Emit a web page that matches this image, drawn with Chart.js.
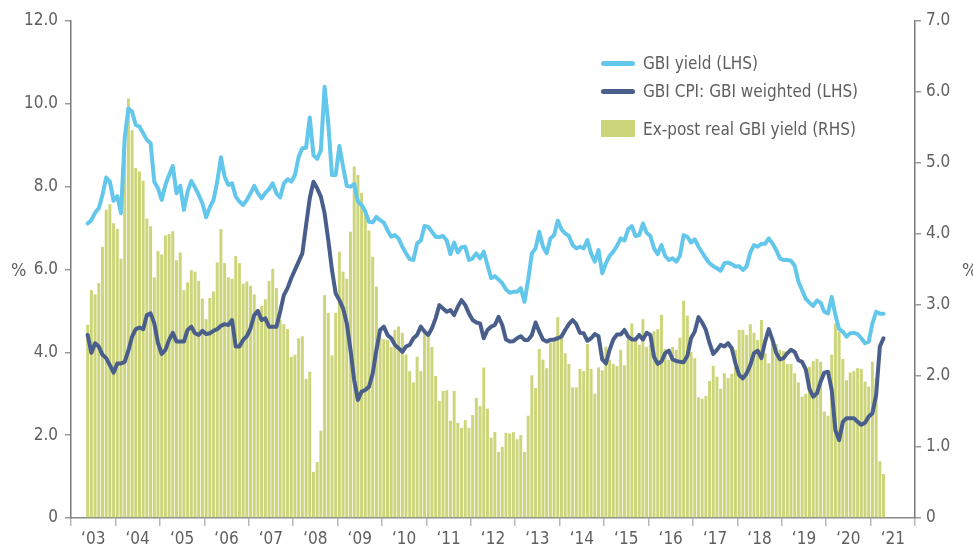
<!DOCTYPE html>
<html>
<head>
<meta charset="utf-8">
<script src="https://cdn.jsdelivr.net/npm/chart.js@4.4.1/dist/chart.umd.min.js"></script>
<style>
  body { margin: 0; background: #fff; }
  #wrap { position: relative; width: 973px; height: 549px; overflow: hidden;
          font-family: 'Liberation Sans Narrow', 'DejaVu Sans Condensed', Roboto, sans-serif; color: #5f5f5f; }
  canvas { position: absolute; left: 0; top: 0; }
  .pct { position: absolute; top: 259px; font-size: 18px; }
  .key { position: absolute; left: 601px; }
  .key .mark { position: absolute; left: 0; width: 34px; }
  .key .line { height: 5px; border-radius: 3px; }
  .key span { position: absolute; left: 42px; white-space: nowrap; font-size: 17px; line-height: 20px; }
</style>
</head>
<body>
<div id="wrap">
  <canvas id="gbiChart" width="973" height="549"></canvas>
  <div class="pct" style="left:11px">%</div>
  <div class="pct" style="left:962px">%</div>
  <div class="key" style="top:63px"><div class="mark line" style="top:-2px;background:#63c7ec"></div><span style="top:-10px">GBI yield (LHS)</span></div>
  <div class="key" style="top:91px"><div class="mark line" style="top:-2px;background:#4a5e8c"></div><span style="top:-10px">GBI CPI: GBI weighted (LHS)</span></div>
  <div class="key" style="top:129px"><div class="mark" style="top:-9px;height:17px;background:#cdd57a"></div><span style="top:-10px">Ex-post real GBI yield (RHS)</span></div>
</div>
<script>
// monthly data, May 2003 - Apr 2021
const firstMonth = 4;   // May 2003 (Jan 2003 = 0)
const yearLabels = ['\u201803', '\u201804', '\u201805', '\u201806', '\u201807', '\u201808', '\u201809', '\u201810',
  '\u201811', '\u201812', '\u201813', '\u201814', '\u201815', '\u201816', '\u201817', '\u201818', '\u201819',
  '\u201820', '\u201821'];

const gbiYield = [
  7.11, 7.19, 7.37, 7.48, 7.80, 8.22, 8.12, 7.66, 7.77, 7.36, 9.17, 9.89, 9.81, 9.49, 9.45, 9.29,
  9.13, 9.05, 8.12, 7.96, 7.68, 8.04, 8.28, 8.50, 7.84, 8.02, 7.44, 7.88, 8.14, 7.98, 7.80, 7.60,
  7.26, 7.50, 7.68, 8.12, 8.71, 8.24, 8.04, 8.08, 7.76, 7.64, 7.56, 7.68, 7.84, 8.02, 7.84, 7.72,
  7.85, 7.94, 8.08, 7.84, 7.74, 8.08, 8.18, 8.12, 8.28, 8.72, 8.93, 8.94, 9.67, 8.76, 8.67, 8.88,
  10.41, 9.53, 8.28, 8.28, 8.98, 8.48, 8.02, 8.00, 8.06, 7.64, 7.56, 7.40, 7.15, 7.14, 7.27, 7.19,
  7.13, 6.95, 6.79, 6.83, 6.75, 6.55, 6.39, 6.25, 6.23, 6.63, 6.70, 7.05, 7.03, 6.91, 6.79, 6.78,
  6.81, 6.70, 6.37, 6.65, 6.41, 6.54, 6.55, 6.23, 6.27, 6.39, 6.27, 6.43, 6.11, 5.79, 5.84, 5.76,
  5.67, 5.52, 5.44, 5.46, 5.46, 5.55, 5.22, 5.75, 6.39, 6.51, 6.91, 6.55, 6.39, 6.75, 6.83, 7.18,
  6.97, 6.87, 6.81, 6.59, 6.51, 6.55, 6.51, 6.71, 6.39, 6.19, 6.47, 5.91, 6.15, 6.33, 6.43, 6.57,
  6.75, 6.70, 6.97, 7.05, 6.81, 6.83, 7.11, 6.89, 6.81, 6.51, 6.37, 6.59, 6.33, 6.23, 6.27, 6.19,
  6.33, 6.83, 6.79, 6.65, 6.73, 6.55, 6.41, 6.27, 6.15, 6.08, 6.03, 5.97, 6.15, 6.17, 6.13, 6.07,
  6.08, 5.99, 6.07, 6.41, 6.59, 6.55, 6.62, 6.62, 6.75, 6.63, 6.47, 6.27, 6.23, 6.23, 6.21, 6.09,
  5.71, 5.50, 5.29, 5.20, 5.12, 5.25, 5.20, 4.98, 4.94, 5.34, 4.90, 4.56, 4.50, 4.38, 4.46, 4.47,
  4.44, 4.34, 4.22, 4.26, 4.70, 4.98, 4.93, 4.93
];

const gbiCpi = [
  4.42, 3.99, 4.22, 4.14, 3.94, 3.86, 3.69, 3.51, 3.73, 3.73, 3.77, 4.04, 4.38, 4.56, 4.60, 4.56,
  4.90, 4.94, 4.70, 4.22, 3.96, 4.06, 4.30, 4.47, 4.26, 4.26, 4.26, 4.54, 4.62, 4.46, 4.42, 4.52,
  4.44, 4.46, 4.52, 4.56, 4.64, 4.68, 4.66, 4.78, 4.14, 4.14, 4.30, 4.39, 4.58, 4.90, 5.00, 4.78,
  4.82, 4.62, 4.62, 4.62, 4.98, 5.38, 5.55, 5.79, 5.99, 6.19, 6.39, 7.07, 7.72, 8.12, 7.96, 7.76,
  7.36, 6.71, 5.99, 5.42, 5.26, 5.06, 4.70, 4.06, 3.33, 2.85, 3.05, 3.09, 3.17, 3.49, 4.06, 4.54,
  4.62, 4.42, 4.34, 4.18, 4.10, 4.01, 4.14, 4.18, 4.34, 4.42, 4.62, 4.50, 4.42, 4.58, 4.82, 5.14,
  5.06, 4.98, 5.02, 4.90, 5.10, 5.26, 5.14, 4.94, 4.78, 4.72, 4.70, 4.34, 4.54, 4.62, 4.66, 4.86,
  4.66, 4.31, 4.26, 4.27, 4.34, 4.39, 4.30, 4.30, 4.42, 4.72, 4.50, 4.31, 4.26, 4.30, 4.31, 4.34,
  4.38, 4.54, 4.68, 4.78, 4.68, 4.47, 4.46, 4.28, 4.34, 4.44, 4.39, 3.83, 3.73, 4.06, 4.31, 4.43,
  4.43, 4.54, 4.38, 4.31, 4.31, 4.42, 4.31, 4.47, 4.42, 3.89, 3.72, 3.78, 3.98, 4.04, 3.83, 3.79,
  3.77, 3.76, 3.91, 4.34, 4.50, 4.85, 4.72, 4.54, 4.22, 3.96, 4.06, 4.18, 4.14, 4.22, 4.10, 3.73,
  3.45, 3.37, 3.49, 3.69, 3.98, 4.04, 3.86, 4.26, 4.56, 4.30, 3.99, 3.83, 3.86, 3.98, 4.06, 4.01,
  3.81, 3.77, 3.59, 3.11, 2.93, 3.01, 3.29, 3.51, 3.53, 3.09, 2.12, 1.88, 2.32, 2.41, 2.41, 2.41,
  2.32, 2.25, 2.30, 2.45, 2.53, 2.97, 4.14, 4.34
];

const realYield = [
  2.72, 3.21, 3.15, 3.31, 3.82, 4.34, 4.42, 4.15, 4.07, 3.65, 5.35, 5.91, 5.46, 4.93, 4.88, 4.75,
  4.22, 4.11, 3.39, 3.76, 3.71, 3.98, 4.00, 4.04, 3.63, 3.74, 3.21, 3.32, 3.49, 3.47, 3.34, 3.09,
  2.80, 3.10, 3.19, 3.60, 4.07, 3.59, 3.39, 3.37, 3.69, 3.59, 3.30, 3.33, 3.27, 3.15, 2.90, 2.99,
  3.08, 3.34, 3.51, 3.24, 2.79, 2.73, 2.66, 2.27, 2.30, 2.53, 2.56, 1.96, 2.06, 0.65, 0.79, 1.23,
  3.14, 2.89, 2.29, 2.89, 3.75, 3.47, 3.37, 4.03, 4.95, 4.83, 4.58, 4.30, 4.05, 3.68, 3.26, 2.55,
  2.52, 2.51, 2.41, 2.65, 2.70, 2.61, 2.30, 2.07, 1.91, 2.27, 2.07, 2.60, 2.58, 2.41, 2.00, 1.65,
  1.79, 1.80, 1.37, 1.79, 1.34, 1.27, 1.38, 1.27, 1.45, 1.69, 1.58, 2.12, 1.54, 1.13, 1.21, 0.93,
  1.00, 1.20, 1.19, 1.21, 1.11, 1.17, 0.93, 1.44, 2.01, 1.83, 2.38, 2.23, 2.11, 2.47, 2.49, 2.83,
  2.53, 2.32, 2.17, 1.84, 1.84, 2.10, 2.07, 2.45, 2.10, 1.75, 2.12, 2.08, 2.41, 2.23, 2.17, 2.14,
  2.37, 2.15, 2.52, 2.74, 2.54, 2.44, 2.80, 2.41, 2.44, 2.63, 2.66, 2.86, 2.38, 2.23, 2.41, 2.37,
  2.54, 3.06, 2.85, 2.34, 2.25, 1.70, 1.68, 1.72, 1.93, 2.14, 1.99, 1.82, 2.04, 1.97, 2.03, 2.37,
  2.65, 2.65, 2.58, 2.73, 2.61, 2.51, 2.79, 2.32, 2.18, 2.45, 2.45, 2.37, 2.35, 2.17, 2.17, 2.04,
  1.91, 1.71, 1.75, 2.13, 2.21, 2.24, 2.20, 1.50, 1.44, 2.30, 2.74, 2.62, 2.24, 1.94, 2.05, 2.07,
  2.11, 2.10, 1.92, 1.85, 2.20, 1.96, 0.80, 0.62
];

// one category per month, Jan 2003 - Dec 2021
const months = [];
for (let y = 2003; y <= 2021; y++) {
  for (let m = 1; m <= 12; m++) months.push(y + '-' + (m < 10 ? '0' + m : m));
}

function pad(values) {
  const out = new Array(months.length).fill(null);
  values.forEach((v, i) => { out[firstMonth + i] = v; });
  return out;
}

const FONT = "'Liberation Sans Narrow', 'DejaVu Sans Condensed', Roboto, sans-serif";
const TEXT = '#5f5f5f';

new Chart(document.getElementById('gbiChart'), {
  type: 'bar',
  data: {
    labels: months,
    datasets: [
      {
        type: 'line',
        label: 'GBI CPI: GBI weighted (LHS)',
        data: pad(gbiCpi),
        yAxisID: 'yLeft',
        borderColor: '#4a5e8c',
        borderWidth: 4,
        pointRadius: 0,
        tension: 0,
        borderJoinStyle: 'round',
        borderCapStyle: 'round'
      },
      {
        type: 'line',
        label: 'GBI yield (LHS)',
        data: pad(gbiYield),
        yAxisID: 'yLeft',
        borderColor: '#63c7ec',
        borderWidth: 4,
        pointRadius: 0,
        tension: 0,
        borderJoinStyle: 'round',
        borderCapStyle: 'round'
      },
      {
        label: 'Ex-post real GBI yield (RHS)',
        data: pad(realYield),
        yAxisID: 'yRight',
        backgroundColor: '#cdd57a',
        categoryPercentage: 1,
        barPercentage: 0.8
      }
    ]
  },
  options: {
    responsive: false,
    animation: false,
    layout: { padding: { top: 21, left: 0, right: 0, bottom: 0 } },
    plugins: {
      legend: { display: false },
      tooltip: { enabled: false }
    },
    scales: {
      x: {
        offset: true,
        afterFit: (scale) => { scale.height = 31; },
        grid: {
          offset: true,
          drawOnChartArea: false,
          tickLength: 8,
          lineWidth: 1.5,
          color: (ctx) => (ctx.index === undefined || ctx.index % 12 === 0) ? '#b8b8b8' : 'rgba(0,0,0,0)'
        },
        border: { color: '#8a8a8a', width: 1.5 },
        ticks: {
          autoSkip: false,
          maxRotation: 0,
          minRotation: 0,
          padding: 3,
          labelOffset: -1.85,
          color: TEXT,
          font: { family: FONT, size: 17 },
          callback: (value, index) => index % 12 === 6 ? yearLabels[Math.floor(index / 12)] : ''
        }
      },
      yLeft: {
        position: 'left',
        min: 0,
        max: 12,
        afterFit: (scale) => { scale.width = 71; },
        grid: { drawOnChartArea: false, tickLength: 6, color: '#9a9a9a', lineWidth: 1.5 },
        border: { color: '#7a7a7a', width: 1.5 },
        ticks: {
          stepSize: 2,
          padding: 7,
          color: TEXT,
          font: { family: FONT, size: 17 },
          callback: (v) => v === 0 ? '0' : v.toFixed(1)
        }
      },
      yRight: {
        position: 'right',
        min: 0,
        max: 7,
        afterFit: (scale) => { scale.width = 58; },
        grid: { drawOnChartArea: false, tickLength: 6, color: '#9a9a9a', lineWidth: 1.5 },
        border: { color: '#7a7a7a', width: 1.5 },
        ticks: {
          stepSize: 1,
          padding: 5,
          color: TEXT,
          font: { family: FONT, size: 17 },
          callback: (v) => v === 0 ? '0' : v.toFixed(1)
        }
      }
    }
  }
});
</script>
</body>
</html>
